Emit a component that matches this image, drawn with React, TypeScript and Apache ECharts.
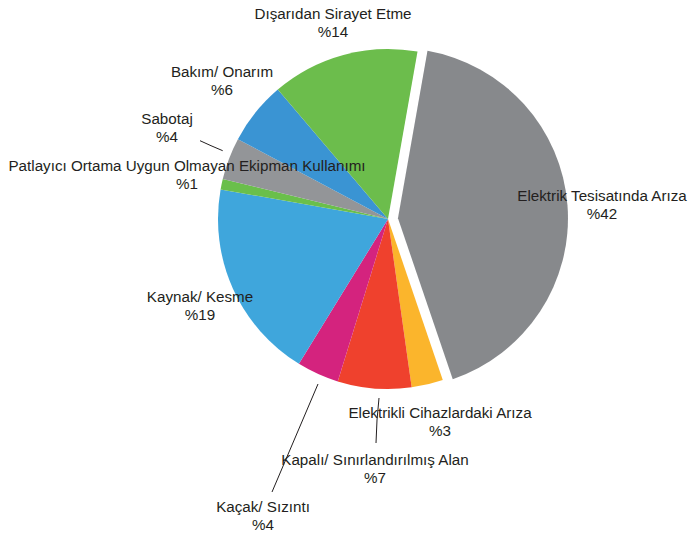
import React, { useEffect, useRef } from "react";
import * as echarts from "echarts";

const categories = [
  "Elektrik Tesisatında Arıza",
  "Elektrikli Cihazlardaki Arıza",
  "Kapalı/ Sınırlandırılmış Alan",
  "Kaçak/ Sızıntı",
  "Kaynak/ Kesme",
  "Patlayıcı Ortama Uygun Olmayan Ekipman Kullanımı",
  "Sabotaj",
  "Bakım/ Onarım",
  "Dışarıdan Sirayet Etme",
];
const values = [42, 3, 7, 4, 19, 1, 4, 6, 14];
const colors = [
  "#87898c",
  "#fbb52c",
  "#ef412d",
  "#d4237e",
  "#3fa6dc",
  "#6abf4b",
  "#939598",
  "#3a94d3",
  "#6cbd4c",
];
const explodedIndex = 0;
// label block centres (layout only)
const labelPos: [number, number][] = [
  [602, 204],
  [440, 421],
  [375, 468],
  [263, 515],
  [200, 305],
  [187, 174],
  [167, 127],
  [222, 80],
  [333, 22],
];
const labelLines: (number[][] | null)[] = [
  null,
  null,
  [[379, 398], [377, 420], [376, 443]],
  [[318, 384], [295, 438], [272, 492]],
  null,
  null,
  [[222.7, 150.7], [211, 145.7], [200, 140.7]],
  null,
  null,
];

const CX = 388;
const CY = 219;
const R = 170;
const START = 80;
const OFFSET = 10;

export default function App() {
  const ref = useRef<HTMLDivElement>(null);
  useEffect(() => {
    document.body.style.margin = "0";
    const chart = echarts.init(ref.current!, null, { renderer: "svg" });
    const total = values.reduce((a, b) => a + b, 0);
    const before = values.slice(0, explodedIndex).reduce((a, b) => a + b, 0);
    const midFrac = (before + values[explodedIndex] / 2) / total;
    const midAngle = ((START - midFrac * 360) * Math.PI) / 180;
    const ex = CX + OFFSET * Math.cos(midAngle);
    const ey = CY - OFFSET * Math.sin(midAngle);

    const labelBase = {
      show: true,
      position: "outside",
      formatter: (p: any) => `${p.name}\n%${p.value}`,
      color: "#231f20",
      fontFamily: "Liberation Sans, Arial, sans-serif",
      fontSize: 15.2,
      lineHeight: 18,
      align: "center",
      overflow: "none",
    };
    const labelLayout = (params: any) => {
      const i = params.dataIndex;
      const res: any = {
        x: labelPos[i][0],
        y: labelPos[i][1],
        align: "center",
        verticalAlign: "middle",
      };
      if (labelLines[i]) res.labelLinePoints = labelLines[i];
      return res;
    };
    const common = {
      type: "pie",
      radius: [0, R],
      startAngle: START,
      clockwise: true,
      avoidLabelOverlap: false,
      silent: true,
      emphasis: { disabled: true },
      labelLayout,
      labelLine: { show: true, lineStyle: { color: "#231f20", width: 1 } },
    };
    chart.setOption({
      animation: false,
      series: [
        {
          ...common,
          center: [CX, CY],
          label: labelBase,
          data: categories.map((name, i) => ({
            name,
            value: values[i],
            itemStyle: {
              color: colors[i],
              opacity: i === explodedIndex ? 0 : 1,
            },
            label: { show: i !== explodedIndex },
            labelLine: { show: i !== explodedIndex && labelLines[i] !== null },
          })),
        },
        {
          ...common,
          center: [ex, ey],
          label: labelBase,
          data: categories.map((name, i) => ({
            name,
            value: values[i],
            itemStyle: {
              color: colors[i],
              opacity: i === explodedIndex ? 1 : 0,
            },
            label: { show: i === explodedIndex },
            labelLine: { show: i === explodedIndex && labelLines[i] !== null },
          })),
        },
      ],
    });
    return () => chart.dispose();
  }, []);
  return <div ref={ref} style={{ width: 688, height: 535 }} />;
}
